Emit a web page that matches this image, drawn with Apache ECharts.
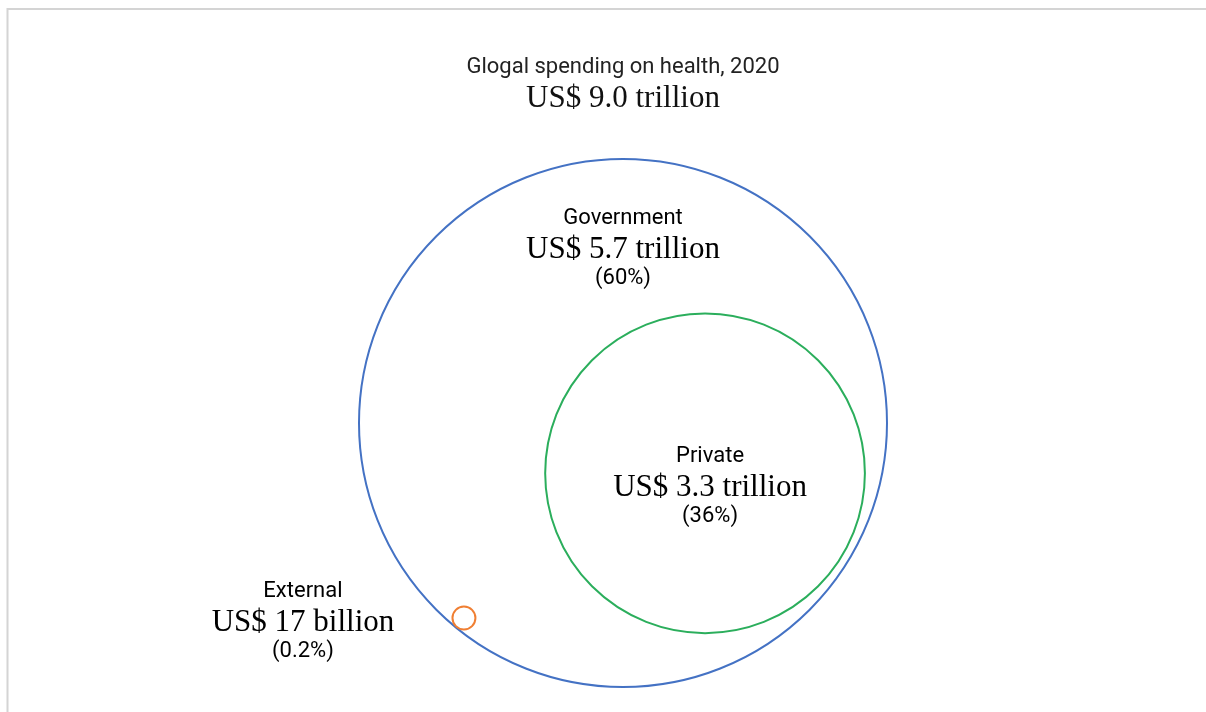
<!DOCTYPE html>
<html>
<head>
<meta charset="utf-8">
<script src="https://cdn.jsdelivr.net/npm/echarts@6/dist/echarts.min.js"></script>
<style>
  html, body { margin: 0; padding: 0; background: #fff; }
  #chart { width: 1206px; height: 712px; }
</style>
</head>
<body>
<div id="chart"></div>
<script>
// data (US$ trillion, 2020)
var total = 9.0;
var circleNames = ['Total', 'Private', 'External'];
var circleValues = [9.0, 3.3, 0.017];
var labelNames = ['Government', 'Private', 'External'];
var labelValues = [5.7, 3.3, 0.017];
var labelShares = ['60%', '36%', '0.2%'];

var colors = ['#4472c4', '#2bae5c', '#f07f33'];

// radius in axis units, area proportional to value
var radius = circleValues.map(function (v) { return Math.sqrt(v); });
var R = radius[0];

// place private circle inside the outer one, external touching its rim
var placeAt = function (angleDeg, dist) {
    var a = angleDeg * Math.PI / 180;
    return [dist * Math.cos(a), dist * Math.sin(a)];
};
var centers = [
    [0, 0],
    placeAt(-31.5, R - radius[1] - 0.09),
    placeAt(-129.2, R - radius[2] - 0.01)
];

// label offsets (px) from each circle centre to the middle (amount) line
var labelOffsets = [[0, -173], [5, 15], [-161, 5]];

var fmtAmount = function (v) {
    if (v >= 1) return 'US$ ' + v.toFixed(1) + ' trillion';
    return 'US$ ' + Math.round(v * 1000) + ' billion';
};

var rich = {
    a: { fontFamily: 'Roboto', fontSize: 22, lineHeight: 30, color: '#222', fontWeight: 'normal' },
    b: { fontFamily: 'Liberation Serif', fontSize: 31, lineHeight: 34, color: '#111', fontWeight: 'normal' },
    c: { fontFamily: 'Roboto', fontSize: 22, lineHeight: 23, color: '#222', fontWeight: 'normal' }
};

var seriesData = circleNames.map(function (n, i) {
    return { name: n, value: [centers[i][0], centers[i][1], radius[i], i] };
});

var chart = echarts.init(document.getElementById('chart'));

chart.setOption({
    animation: false,
    title: {
        text: '{a|Glogal spending on health, 2020}\n{b|' + fmtAmount(total) + '}',
        left: 623,
        top: 52,
        textAlign: 'center',
        padding: 0,
        textStyle: { fontWeight: 'normal', rich: rich }
    },
    graphic: [{
        type: 'polyline',
        shape: { points: [[7.5, 712], [7.5, 9], [1206, 9]] },
        style: { stroke: '#d4d4d4', lineWidth: 2, fill: null }
    }],
    grid: { left: 95, right: 55, top: 5, bottom: 3 },
    xAxis: { type: 'value', min: -6, max: 6, show: false },
    yAxis: { type: 'value', min: -3.25, max: 4.75, show: false },
    series: [{
        type: 'custom',
        data: seriesData,
        renderItem: function (params, api) {
            var i = api.value(3);
            var c = api.coord([api.value(0), api.value(1)]);
            var r = api.size([api.value(2), 0])[0];
            var off = labelOffsets[i];
            return {
                type: 'group',
                children: [{
                    type: 'circle',
                    shape: { cx: c[0], cy: c[1], r: r },
                    style: { fill: 'none', stroke: colors[i], lineWidth: 2 }
                }, {
                    type: 'text',
                    style: {
                        x: c[0] + off[0],
                        y: c[1] + off[1] - 47,
                        align: 'center',
                        verticalAlign: 'top',
                        text: '{a|' + labelNames[i] + '}\n{b|' + fmtAmount(labelValues[i]) + '}\n{c|(' + labelShares[i] + ')}',
                        rich: rich
                    }
                }]
            };
        }
    }]
});
</script>
</body>
</html>
